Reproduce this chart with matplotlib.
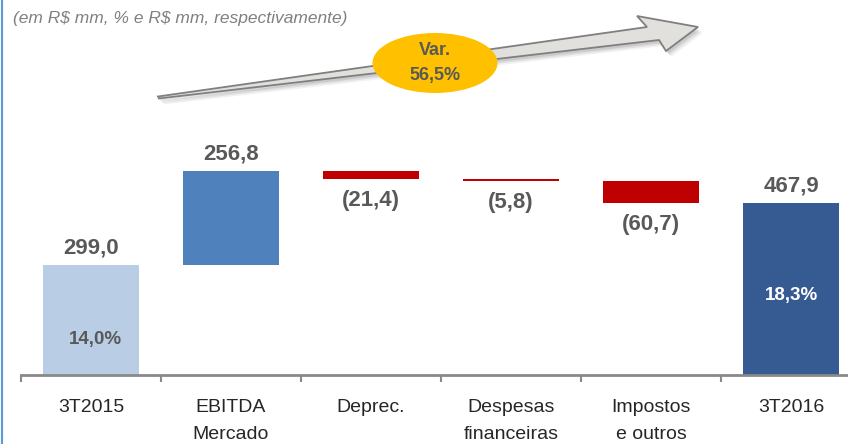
import matplotlib
matplotlib.use("Agg")
import matplotlib.pyplot as plt
from matplotlib.patches import Polygon, Ellipse
from matplotlib.lines import Line2D

categories = ["3T2015", "EBITDA\nMercado", "Deprec.", "Despesas\nfinanceiras", "Impostos\ne outros", "3T2016"]
values = [299.0, 256.8, -21.4, -5.8, -60.7, 467.9]
value_labels = ["299,0", "256,8", "(21,4)", "(5,8)", "(60,7)", "467,9"]
margin_labels = ["14,0%", "18,3%"]
variation = "Var.\n56,5%"
subtitle = "(em R$ mm, % e R$ mm, respectivamente)"

colors = ["#B9CDE5", "#4F81BD", "#C00000", "#C00000", "#C00000", "#365A92"]
gray_text = "#595959"

plt.rcParams["font.family"] = ["Liberation Sans", "DejaVu Sans"]
plt.rcParams["text.parse_math"] = False

W, H = 848, 444
fig = plt.figure(figsize=(W / 100, H / 100), dpi=100)
ax = fig.add_axes([21 / W, 69 / H, 1 - 21 / W, 375 / H])

# waterfall bottoms
bottoms = []
running = 0
for i, v in enumerate(values):
    if i == 0 or i == len(values) - 1:
        bottoms.append(0)
        running = v if i == 0 else running
    else:
        bottoms.append(running if v >= 0 else running + v)
        running += v
heights = [abs(v) for v in values]
x = list(range(len(values)))

ax.bar(x, heights, bottom=bottoms, width=0.69, color=colors, zorder=3)

for i, v in enumerate(values):
    if v >= 0:
        ax.annotate(value_labels[i], (x[i], bottoms[i] + heights[i]), xytext=(0, 5),
                    textcoords="offset points", ha="center", va="bottom",
                    fontsize=16, fontweight="bold", color=gray_text)
    else:
        ax.annotate(value_labels[i], (x[i], bottoms[i]), xytext=(0, -8),
                    textcoords="offset points", ha="center", va="top",
                    fontsize=16, fontweight="bold", color=gray_text)

ax.text(x[0] + 0.03, values[0] * 0.32, margin_labels[0], ha="center", va="center",
        fontsize=13.5, fontweight="bold", color=gray_text)
ax.text(x[-1], values[-1] * 0.465, margin_labels[1], ha="center", va="center",
        fontsize=13.5, fontweight="bold", color="white")

ax.set_xlim(-0.5, -0.5 + 827 / 140)
ax.set_ylim(0, 375 / 0.367)
ax.set_yticks([])
ax.set_xticks(x)
ax.set_xticklabels(categories, fontsize=14, color="#262626", linespacing=1.75)
ax.tick_params(axis="x", which="major", length=0, pad=17.5)
ax.set_xticks([i - 0.5 for i in range(len(values))], minor=True)
ax.tick_params(axis="x", which="minor", length=5, width=1.5, color="#898989", direction="out")
for s in ["top", "right", "left"]:
    ax.spines[s].set_visible(False)
ax.spines["bottom"].set_color("#898989")
ax.spines["bottom"].set_linewidth(2)
ax.spines["bottom"].set_zorder(4)

# left border
fig.add_artist(Line2D([1.5 / W, 1.5 / W], [0, 1], color="#5B9BD5", lw=1.5))

fig.text(13 / W, 1 - 18 / H, subtitle, fontsize=12.5, style="italic", color="#808080",
         ha="left", va="center")


def px(pts):
    return [(px_x / W, 1 - px_y / H) for px_x, px_y in pts]


arrow_pts = [(158, 96.5), (647, 27), (637, 16), (698, 27), (666, 51), (659, 40), (159, 98.5)]
for off, a in [(6, 0.05), (4.5, 0.07), (3, 0.09)]:
    shadow = Polygon(px([(p + off - 1, q + off) for p, q in arrow_pts]), closed=True,
                     facecolor="#000000", alpha=a, edgecolor="none", transform=fig.transFigure)
    fig.add_artist(shadow)
arrow = Polygon(px(arrow_pts), closed=True, facecolor="#E2E0DC", edgecolor="#7F7F7F",
                lw=1.3, transform=fig.transFigure)
fig.add_artist(arrow)

ell = Ellipse((435 / W, 1 - 63 / H), 125 / W, 60 / H, facecolor="#FFC000",
              edgecolor="none", transform=fig.transFigure)
fig.add_artist(ell)
fig.text(435 / W, 1 - 63 / H, variation, ha="center", va="center", fontsize=13,
         fontweight="bold", color=gray_text, linespacing=1.65)

fig.savefig("out.png", dpi=100)
